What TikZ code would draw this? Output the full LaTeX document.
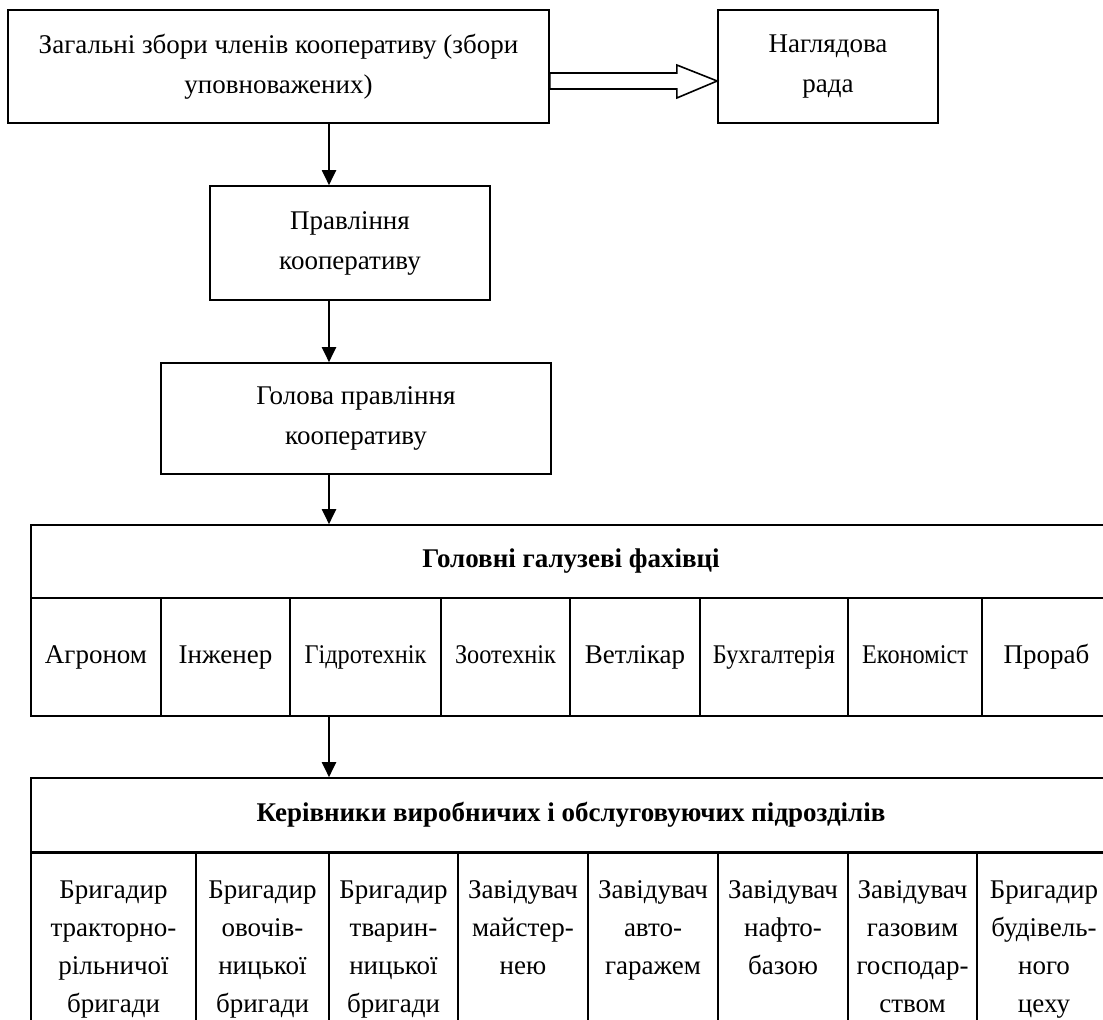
\documentclass[tikz,border=0pt]{standalone}
\usepackage{fontspec}
\setmainfont{Liberation Serif}
\newfontfamily\narrowfont[FakeStretch=0.9]{Liberation Serif}
\usetikzlibrary{arrows.meta,positioning,calc}
\tikzset{
  unit/.style={rectangle, draw=black, line width=0.8pt, align=center,
               inner sep=2pt, font=\fontsize{13.5}{20}\selectfont},
  hdr/.style={rectangle, draw=black, line width=0.8pt, minimum width=540pt,
              minimum height=37pt, font=\fontsize{13.5}{20}\selectfont\bfseries},
  cell/.style={rectangle, draw=black, line width=0.8pt, inner sep=0pt,
               text height=9.5pt, text depth=3pt,
               font=\fontsize{13.5}{20}\selectfont},
  celltext/.style={align=center, inner sep=0pt, font=\fontsize{13.5}{19}\selectfont},
  flow/.style={-{Triangle[length=7.5pt,width=7pt]}, line width=1pt},
  hollow/.style={draw=black, fill=white, line width=0.8pt, line join=miter},
}
\begin{document}
\begin{tikzpicture}[x=0.5pt,y=-0.5pt]
  \useasboundingbox (0,0) rectangle (1103,1020);
  \clip (0,0) rectangle (1103,1020);

  % upper boxes
  \node[unit, minimum width=270.5pt, minimum height=56.5pt] (zb) at (278.5,66.5)
    {Загальні збори членів кооперативу (збори\\уповноважених)};
  \node[unit, minimum width=110pt, minimum height=56.5pt] (nr) at (828,66.5)
    {Наглядова\\рада};
  \node[unit, minimum width=140pt, minimum height=57pt] (pk) at (350,243)
    {Правління\\кооперативу};
  \node[unit, minimum width=195pt, minimum height=55.5pt] (gp) at (356,418.5)
    {Голова правління\\кооперативу};
  \coordinate (ax) at (329,0);

  % головні галузеві фахівці
  \node[hdr, minimum height=36.5pt] (gf) at (571,561.5) {Головні галузеві фахівці};
  \foreach \l/\r/\t [count=\i] in {31/161/Агроном, 161/290/Інженер,
      290/441/{\narrowfont Гідротехнік}, 441/570/{\narrowfont Зоотехнік},
      570/700/Ветлікар, 700/848/{\narrowfont Бухгалтерія},
      848/982/{\narrowfont Економіст}, 982/1111/Прораб}
    \node[cell, minimum width={(\r-\l)*0.5pt}, minimum height=59pt]
      (f\i) at ({(\l+\r)/2},657) {\t};

  % керівники підрозділів
  \node[hdr] (kv) at (571,815) {Керівники виробничих і обслуговуючих підрозділів};
  \foreach \l/\r/\t [count=\i] in {
      31/196/{Бригадир\\тракторно-\\рільничої\\бригади},
      196/329/{Бригадир\\овочів-\\ницької\\бригади},
      329/458/{Бригадир\\тварин-\\ницької\\бригади},
      458/588/{Завідувач\\майстер-\\нею},
      588/718/{Завідувач\\авто-\\гаражем},
      718/848/{Завідувач\\нафто-\\базою},
      848/977/{Завідувач\\газовим\\господар-\\ством},
      977/1111/{Бригадир\\будівель-\\ного\\цеху}}
  {
    \node[cell, anchor=north, minimum width={(\r-\l)*0.5pt}, minimum height=105pt,
          text height=, text depth=]
      (k\i) at ({(\l+\r)/2},852) {};
    \node[celltext, anchor=north, yshift=-14pt] (kt\i) at (k\i.north) {\t};
  }

  % connectors
  \draw[flow] (zb.south -| ax) -- (pk.north -| ax);
  \draw[flow] (pk.south -| ax) -- (gp.north -| ax);
  \draw[flow] (gp.south -| ax) -- (gf.north -| ax);
  \draw[flow] (f3.south -| ax) -- (kv.north -| ax);
  \coordinate (tip) at ($(nr.west)+(0,14.5)$);
  \draw[hollow] ($(zb.east)+(0,6.5)$) -- ($(zb.east)+(127,6.5)$)
    -- ($(zb.east)+(127,-1.5)$) -- (tip) -- ($(zb.east)+(127,31.5)$)
    -- ($(zb.east)+(127,22.5)$) -- ($(zb.east)+(0,22.5)$) -- cycle;
\end{tikzpicture}
\end{document}
